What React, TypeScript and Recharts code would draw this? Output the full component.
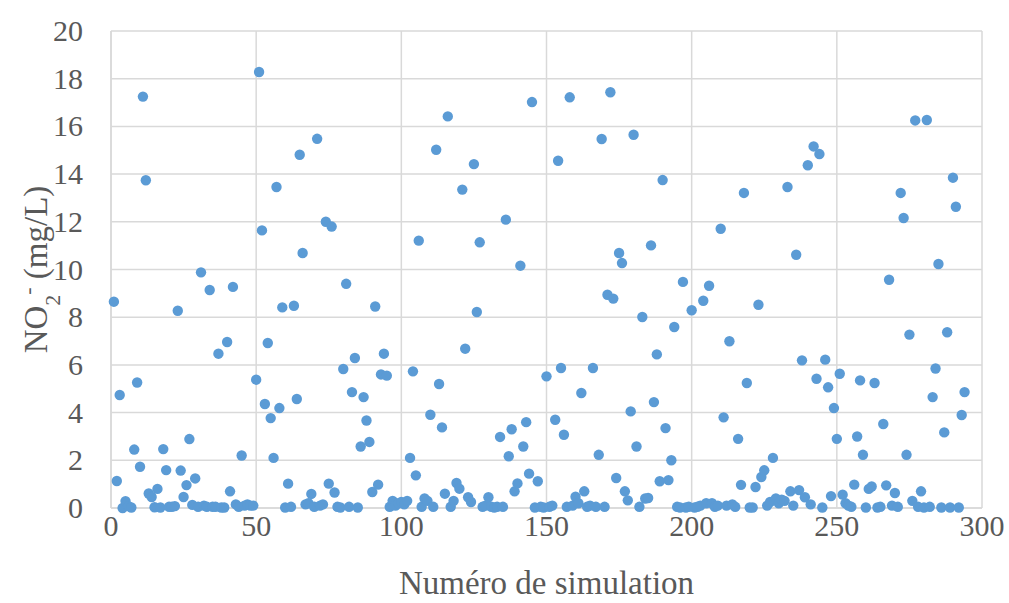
import React from "react";
import {
  ScatterChart,
  Scatter,
  XAxis,
  YAxis,
  CartesianGrid,
} from "recharts";

// NO2- concentration for each simulation run (index = simulation number, starting at 1)
const no2Values = [
  8.65, 1.13, 4.74, 0.0, 0.29, 0.08, 0.02, 2.45, 5.26, 1.73,
  17.25, 13.74, 0.61, 0.46, 0.03, 0.8, 0.02, 2.47, 1.59, 0.05,
  0.05, 0.08, 8.27, 1.57, 0.46, 0.96, 2.89, 0.13, 1.24, 0.05,
  9.88, 0.1, 0.05, 9.14, 0.05, 0.05, 6.47, 0.02, 0.02, 6.96,
  0.7, 9.27, 0.15, 0.05, 2.2, 0.1, 0.15, 0.1, 0.1, 5.38,
  18.28, 11.64, 4.36, 6.92, 3.77, 2.1, 13.46, 4.19, 8.41, 0.02,
  1.02, 0.05, 8.48, 4.57, 14.81, 10.69, 0.15, 0.2, 0.59, 0.05,
  15.48, 0.1, 0.15, 12.0, 1.02, 11.8, 0.65, 0.05, 0.02, 5.83,
  9.4, 0.05, 4.86, 6.29, 0.02, 2.58, 4.65, 3.67, 2.77, 0.67,
  8.45, 0.98, 5.6, 6.47, 5.55, 0.05, 0.3, 0.1, 0.2, 0.25,
  0.15, 0.3, 2.1, 5.73, 1.37, 11.21, 0.05, 0.4, 0.3, 3.91,
  0.05, 15.02, 5.2, 3.38, 0.6, 16.42, 0.05, 0.3, 1.05, 0.81,
  13.35, 6.68, 0.45, 0.25, 14.42, 8.22, 11.14, 0.05, 0.1, 0.45,
  0.05, 0.02, 0.05, 2.98, 0.05, 12.09, 2.17, 3.3, 0.7, 1.03,
  10.16, 2.58, 3.6, 1.44, 17.02, 0.02, 1.12, 0.05, 0.02, 5.52,
  0.05, 0.1, 3.7, 14.56, 5.87, 3.07, 0.05, 17.22, 0.1, 0.47,
  0.2, 4.82, 0.7, 0.05, 0.1, 5.87, 0.05, 2.23, 15.47, 0.05,
  8.94, 17.43, 8.78, 1.26, 10.69, 10.27, 0.7, 0.32, 4.05, 15.65,
  2.58, 0.05, 8.01, 0.4, 0.42, 11.01, 4.44, 6.44, 1.12, 13.75,
  3.35, 1.17, 2.0, 7.59, 0.05, 0.02, 9.48, 0.02, 0.05, 8.29,
  0.02, 0.05, 0.1, 8.69, 0.2, 9.32, 0.2, 0.05, 0.1, 11.71,
  3.8, 0.1, 6.99, 0.15, 0.05, 2.9, 0.97, 13.21, 5.24, 0.02,
  0.02, 0.88, 8.52, 1.3, 1.58, 0.1, 0.25, 2.1, 0.4, 0.2,
  0.35, 0.3, 13.46, 0.7, 0.1, 10.62, 0.75, 6.19, 0.45, 14.37,
  0.15, 15.16, 5.42, 14.84, 0.02, 6.22, 5.06, 0.5, 4.19, 2.9,
  5.63, 0.56, 0.2, 0.1, 0.05, 0.98, 3.0, 5.35, 2.23, 0.02,
  0.8, 0.9, 5.24, 0.02, 0.05, 3.52, 0.95, 9.57, 0.1, 0.63,
  0.05, 13.21, 12.16, 2.23, 7.27, 0.3, 16.25, 0.05, 0.7, 0.02,
  16.27, 0.05, 4.65, 5.85, 10.23, 0.02, 3.17, 7.37, 0.02, 13.85,
  12.63, 0.02, 3.9, 4.86,
];

const xTicks = [0, 50, 100, 150, 200, 250, 300];
const yTicks = [0, 2, 4, 6, 8, 10, 12, 14, 16, 18, 20];

const points = no2Values.map((v, i) => ({ sim: i + 1, no2: v }));

const FONT = "'Liberation Serif', 'Times New Roman', serif";
const TEXT = "#595959";
const GRID = "#d9d9d9";
const DOT = "#5b9bd5";
const TICK_SIZE = 30;
const TITLE_SIZE = 33;

const Dot = (props: any) => {
  const { cx, cy } = props;
  if (cx == null || cy == null) return null;
  return <circle cx={cx} cy={cy} r={5.2} fill={DOT} />;
};

const YTick = (props: any) => {
  const { y, payload } = props;
  return (
    <text
      x={83}
      y={y}
      dy={10}
      textAnchor="end"
      fill={TEXT}
      fontFamily={FONT}
      fontSize={TICK_SIZE}
    >
      {payload.value}
    </text>
  );
};

const XTick = (props: any) => {
  const { x, y, payload } = props;
  return (
    <text
      x={x}
      y={y}
      dy={26}
      textAnchor="middle"
      fill={TEXT}
      fontFamily={FONT}
      fontSize={TICK_SIZE}
    >
      {payload.value}
    </text>
  );
};

const YTitle = (props: any) => {
  const { viewBox } = props;
  const cy = viewBox.y + viewBox.height / 2;
  const cx = 36;
  return (
    <text
      x={cx}
      y={cy}
      dy={11}
      transform={`rotate(-90, ${cx}, ${cy})`}
      textAnchor="middle"
      fill={TEXT}
      fontFamily={FONT}
      fontSize={TITLE_SIZE}
    >
      NO
      <tspan baselineShift="sub" fontSize={22}>2</tspan>
      <tspan baselineShift="super" fontSize={22}>-</tspan>
      <tspan> (mg/L)</tspan>
    </text>
  );
};

const XTitle = (props: any) => {
  const { viewBox } = props;
  return (
    <text
      x={viewBox.x + viewBox.width / 2}
      y={594}
      textAnchor="middle"
      fill={TEXT}
      fontFamily={FONT}
      fontSize={TITLE_SIZE}
    >
      Numéro de simulation
    </text>
  );
};

export default function App() {
  return (
    <div style={{ position: "absolute", left: 0, top: 0, background: "#fff" }}>
      <ScatterChart
        width={1009}
        height={603}
        margin={{ top: 31, right: 27, bottom: 0, left: 0 }}
      >
        <CartesianGrid stroke={GRID} strokeWidth={1.5} />
        <XAxis
          type="number"
          dataKey="sim"
          domain={[0, 300]}
          ticks={xTicks}
          height={95}
          tickLine={false}
          tickSize={0}
          axisLine={{ stroke: GRID, strokeWidth: 1.5 }}
          tick={<XTick />}
          label={<XTitle />}
        />
        <YAxis
          type="number"
          dataKey="no2"
          domain={[0, 20]}
          ticks={yTicks}
          width={111}
          tickLine={false}
          tickSize={0}
          axisLine={{ stroke: GRID, strokeWidth: 1.5 }}
          tick={<YTick />}
          label={<YTitle />}
        />
        <Scatter
          data={points}
          fill={DOT}
          shape={<Dot />}
          isAnimationActive={false}
        />
      </ScatterChart>
    </div>
  );
}
